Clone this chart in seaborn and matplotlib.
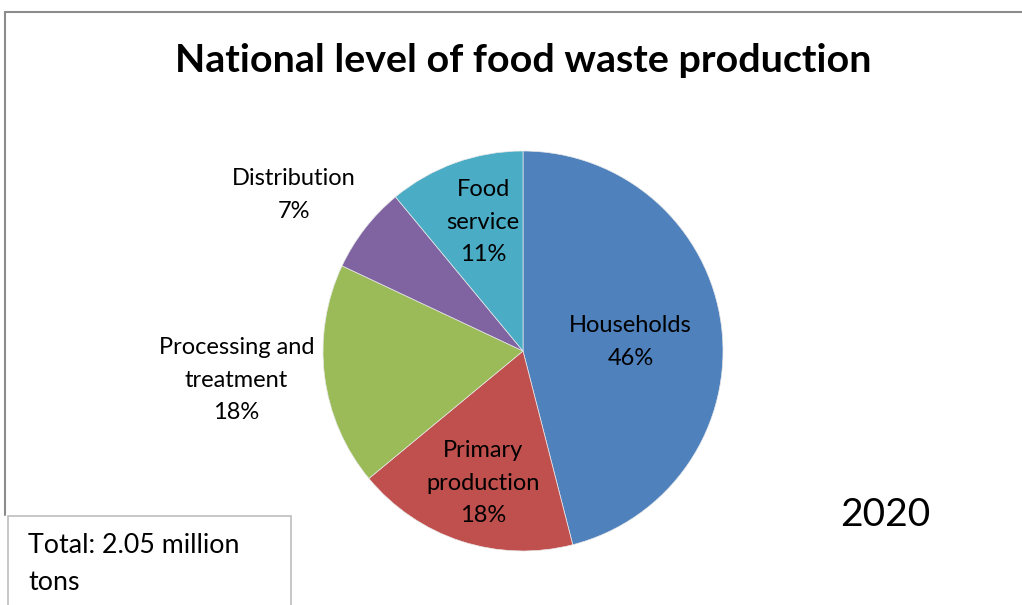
import matplotlib
matplotlib.use("Agg")
import matplotlib.pyplot as plt
import seaborn as sns
import numpy as np
from matplotlib.patches import Rectangle
from matplotlib.lines import Line2D

# Data
sectors = ["Households", "Primary\nproduction", "Processing and\ntreatment", "Distribution", "Food\nservice"]
shares = [46, 18, 18, 7, 11]
colors = ["#4F81BD", "#C0504D", "#9BBB59", "#8064A2", "#4BACC6"]
title = "National level of food waste production"
year_label = "2020"
total_label = "Total: 2.05 million\ntons"

# Label placement: distance from the centre (in pie radii) and angular nudge (deg)
label_dist = [0.54, 0.69, 1.44, 1.385, 0.675]
label_nudge = [-2.4, 1.1, -1.4, 3.5, -2.6]

sns.set_theme(style="white")
plt.rcParams["font.family"] = ["Lato", "DejaVu Sans"]

fig = plt.figure(figsize=(10.22, 6.05), dpi=100)
W, H = 1022, 605

# Outer chart border (gray)
fig.add_artist(Line2D([5 / W, 5 / W], [1 - 12 / H, 1 - 515 / H], transform=fig.transFigure,
                      color="#8c8c8c", lw=1.5))
fig.add_artist(Line2D([5 / W, 1.0], [1 - 12 / H, 1 - 12 / H], transform=fig.transFigure,
                      color="#8c8c8c", lw=1.5))

fig.text(0.5117, 1 - 61 / H, title, ha="center", va="center",
         fontsize=28.4, fontweight="bold", color="black")

ax = fig.add_axes([323 / W, 54 / H, 400 / W, 400 / H])
wedges, _ = ax.pie(shares, colors=colors, startangle=90, counterclock=False,
                   radius=1.0, wedgeprops=dict(linewidth=0.5, edgecolor="#e8e8e8"))
ax.set_xlim(-1, 1)
ax.set_ylim(-1, 1)
ax.set_aspect("equal")
ax.axis("off")

for w, name, val, d, nudge in zip(wedges, sectors, shares, label_dist, label_nudge):
    ang = np.deg2rad((w.theta1 + w.theta2) / 2 + nudge)
    ax.text(d * np.cos(ang), d * np.sin(ang), f"{name}\n{val}%",
            ha="center", va="center", fontsize=17, linespacing=1.68,
            color="black", clip_on=False)

fig.text(885 / W, 1 - 515 / H, year_label, ha="center", va="center", fontsize=28, color="black")

# Total box
fig.add_artist(Rectangle((8 / W, -0.01), (291 - 8) / W, (1 - 516 / H) + 0.01,
                         transform=fig.transFigure, facecolor="white",
                         edgecolor="#bdbdbd", lw=1.2))
fig.text(28 / W, 1 - 564 / H, total_label, ha="left", va="center", fontsize=19.3,
         linespacing=1.62, color="black")

fig.savefig("out.png", dpi=100, facecolor="white")
